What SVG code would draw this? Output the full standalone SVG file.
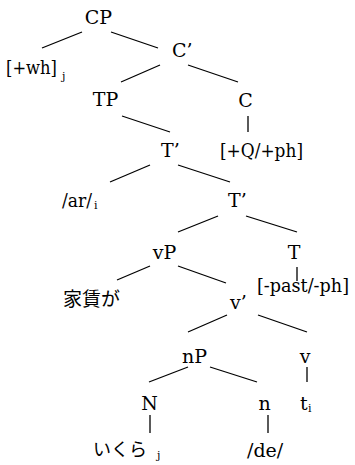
<svg xmlns="http://www.w3.org/2000/svg" width="355" height="465" viewBox="0 0 355 465">
<style>
text{font-family:'DejaVu Serif',serif;font-size:19px;fill:#000}
text.s{font-size:11px}
text.j{font-family:'Noto Sans CJK JP','Noto Sans CJK SC',sans-serif;font-size:18px}
line{stroke:#000;stroke-width:1.3}
</style>
<rect width="355" height="465" fill="#fff"/>
<g id="connectors">
<line x1="42" y1="48" x2="82" y2="32"/>
<line x1="111" y1="32" x2="158" y2="48"/>
<line x1="121" y1="82" x2="160" y2="65"/>
<line x1="188" y1="65" x2="238" y2="82"/>
<line x1="122" y1="116" x2="170" y2="132"/>
<line x1="248" y1="116" x2="248" y2="132"/>
<line x1="110" y1="182" x2="150" y2="165"/>
<line x1="178" y1="165" x2="230" y2="182"/>
<line x1="178" y1="232" x2="218" y2="216"/>
<line x1="246" y1="216" x2="297" y2="232"/>
<line x1="297" y1="267" x2="297" y2="281"/>
<line x1="117" y1="280" x2="150" y2="266"/>
<line x1="178" y1="266" x2="226" y2="283"/>
<line x1="188" y1="332" x2="227" y2="315"/>
<line x1="258" y1="315" x2="307" y2="332"/>
<line x1="149" y1="382" x2="188" y2="367"/>
<line x1="210" y1="367" x2="257" y2="382"/>
<line x1="307" y1="367" x2="307" y2="382"/>
<line x1="150" y1="415" x2="150" y2="433"/>
<line x1="268" y1="415" x2="268" y2="433"/>
</g>
<g id="CP"><text x="98.5" y="24" text-anchor="middle">CP</text></g>
<g id="wh"><text x="6" y="74" textLength="51" lengthAdjust="spacingAndGlyphs">[+wh]</text><text class="s" x="62" y="80">j</text></g>
<g id="Cbar"><text x="172" y="57">C’</text></g>
<g id="TP"><text x="105.5" y="106" text-anchor="middle">TP</text></g>
<g id="C"><text x="245.5" y="107" text-anchor="middle">C</text></g>
<g id="Tbar1"><text x="161" y="157">T’</text></g>
<g id="Qph"><text x="220" y="157" textLength="83" lengthAdjust="spacingAndGlyphs">[+Q/+ph]</text></g>
<g id="ar"><text x="62" y="207" textLength="30" lengthAdjust="spacingAndGlyphs">/ar/</text><text class="s" x="94" y="209">i</text></g>
<g id="Tbar2"><text x="228" y="207">T’</text></g>
<g id="vP"><text x="164.5" y="259" text-anchor="middle">vP</text></g>
<g id="T"><text x="294" y="259" text-anchor="middle">T</text></g>
<g id="past"><text x="257" y="292" textLength="92" lengthAdjust="spacingAndGlyphs">[-past/-ph]</text></g>
<g id="yachin"><text class="j" x="63" y="306" style="font-size:19px">家賃が</text></g>
<g id="vbar"><text x="230" y="309">v’</text></g>
<g id="nP"><text x="194.5" y="363" text-anchor="middle">nP</text></g>
<g id="v"><text x="305" y="363" text-anchor="middle">v</text></g>
<g id="N"><text x="149.5" y="410" text-anchor="middle">N</text></g>
<g id="n"><text x="264.5" y="410" text-anchor="middle">n</text></g>
<g id="ti"><text x="300" y="410">t</text><text class="s" x="308" y="412">i</text></g>
<g id="ikura"><text class="j" x="93" y="456">いくら</text><text class="s" x="157" y="459">j</text></g>
<g id="de"><text x="247" y="457">/de/</text></g>
</svg>
